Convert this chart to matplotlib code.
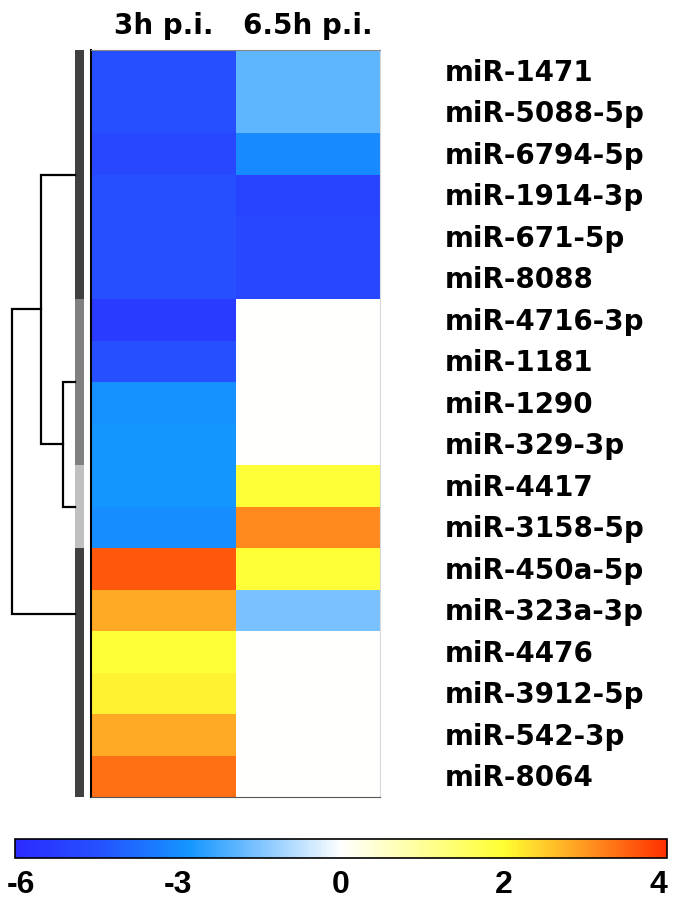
import numpy as np
import matplotlib
matplotlib.use("Agg")
import matplotlib.pyplot as plt
import matplotlib.transforms as mtransforms
from matplotlib.colors import LinearSegmentedColormap, TwoSlopeNorm, ListedColormap

# ---------------- data ----------------
mirnas = ["miR-1471", "miR-5088-5p", "miR-6794-5p", "miR-1914-3p", "miR-671-5p",
          "miR-8088", "miR-4716-3p", "miR-1181", "miR-1290", "miR-329-3p",
          "miR-4417", "miR-3158-5p", "miR-450a-5p", "miR-323a-3p", "miR-4476",
          "miR-3912-5p", "miR-542-3p", "miR-8064"]
timepoints = ["3h p.i.", "6.5h p.i."]
fc_3h = [-4.5, -4.5, -4.8, -4.5, -4.5, -4.5, -5.3, -4.5, -2.95, -2.8,
         -2.8, -3.0, 3.6, 2.83, 1.95, 2.1, 2.83, 3.4]
fc_65h = [-1.9, -1.9, -3.05, -5.0, -4.8, -4.8, 0.0, 0.0, 0.0, 0.0,
          1.95, 3.15, 1.95, -1.55, 0.0, 0.0, 0.0, 0.0]
groups = [0, 0, 0, 0, 0, 0, 1, 1, 1, 1, 2, 2, 3, 3, 3, 3, 3, 3]
group_colors = ["#404040", "#808080", "#c0c0c0", "#404040"]
# dendrogram: cluster leaf positions (row units) and merges (child a, child b, height)
cluster_pos = [3.0, 8.0, 11.0, 13.6]
merges = [(1, 2, 0.16), (0, 4, 0.453), (5, 3, 0.84)]
cbar_ticks = [-6, -3, 0, 2, 4]

# ---------------- colormap ----------------
vmin, vmax = -6, 4
anchors = [(-6, "#2b2bff"), (-4.5, "#2650ff"), (-2.8, "#1496ff"), (-1.5, "#80c4ff"),
           (0, "#ffffff"), (1, "#ffff99"), (2, "#ffff33"), (3, "#ff9922"), (4, "#ff3000")]
norm = TwoSlopeNorm(vmin=vmin, vcenter=0, vmax=vmax)
cmap = LinearSegmentedColormap.from_list(
    "mirna", [(float(norm(v)), c) for v, c in anchors])

W, H = 679, 903
fig = plt.figure(figsize=(W / 100, H / 100), dpi=100)

def fax(x0, y0, x1, y1):
    return fig.add_axes([x0 / W, 1 - y1 / H, (x1 - x0) / W, (y1 - y0) / H])

n = len(mirnas)
top_px, bot_px = 51, 798

# heatmap
ax = fax(91, top_px, 380, bot_px)
data = np.column_stack([fc_3h, fc_65h])
ax.pcolormesh(np.arange(3), np.arange(n + 1), data, cmap=cmap, norm=norm)
ax.set_xlim(0, 2)
ax.set_ylim(n, 0)
ax.set_xticks([])
ax.set_yticks([])
ax.spines["left"].set_color("black")
ax.spines["left"].set_linewidth(1.5)
ax.spines["bottom"].set_color("#555555")
ax.spines["top"].set_color("#888888")
ax.spines["right"].set_color("#d8d8d8")

lab_tr = mtransforms.blended_transform_factory(fig.transFigure, ax.transData)
for i, lab in enumerate(mirnas):
    ax.text(445 / W, i + 0.72, lab, transform=lab_tr,
            ha="left", va="baseline", fontsize=20, fontweight="bold",
            family="DejaVu Sans", clip_on=False)
for j, lab in enumerate(timepoints):
    ax.text(j + 0.5, -0.42, lab, ha="center", va="baseline", fontsize=20,
            fontweight="bold", family="DejaVu Sans", clip_on=False)

# group bar
gax = fax(75, top_px, 84, bot_px)
gax.pcolormesh(np.arange(2), np.arange(n + 1), np.array(groups)[:, None],
               cmap=ListedColormap(group_colors), vmin=-0.5, vmax=3.5)
gax.set_xlim(0, 1)
gax.set_ylim(n, 0)
gax.axis("off")

# dendrogram
dax = fax(0, top_px, 75, bot_px)
dax.set_xlim(1.0, 0.0)
dax.set_ylim(n, 0)
dax.axis("off")
pos = list(cluster_pos)
hts = [0.0] * len(cluster_pos)
for a, b, h in merges:
    ya, yb = pos[a], pos[b]
    dax.plot([hts[a], h, h, hts[b]], [ya, ya, yb, yb], color="black",
             lw=1.6, solid_joinstyle="miter", clip_on=False)
    pos.append((ya + yb) / 2)
    hts.append(h)

# colorbar
cax = fax(15, 840, 667, 859)
sm = matplotlib.cm.ScalarMappable(norm=norm, cmap=cmap)
cb = fig.colorbar(sm, cax=cax, orientation="horizontal", ticks=cbar_ticks)
cb.outline.set_edgecolor("black")
cb.outline.set_linewidth(1.2)
cax.tick_params(length=0, pad=8)
labels = cax.set_xticklabels([str(t) for t in cbar_ticks], fontsize=23,
                             fontweight="bold", family="Liberation Sans")
labels[0].set_horizontalalignment("left")
labels[0].set_transform(labels[0].get_transform() +
                        mtransforms.ScaledTranslation(-8 / 100, 0, fig.dpi_scale_trans))
labels[-1].set_horizontalalignment("right")

fig.savefig("out.png", dpi=100)
